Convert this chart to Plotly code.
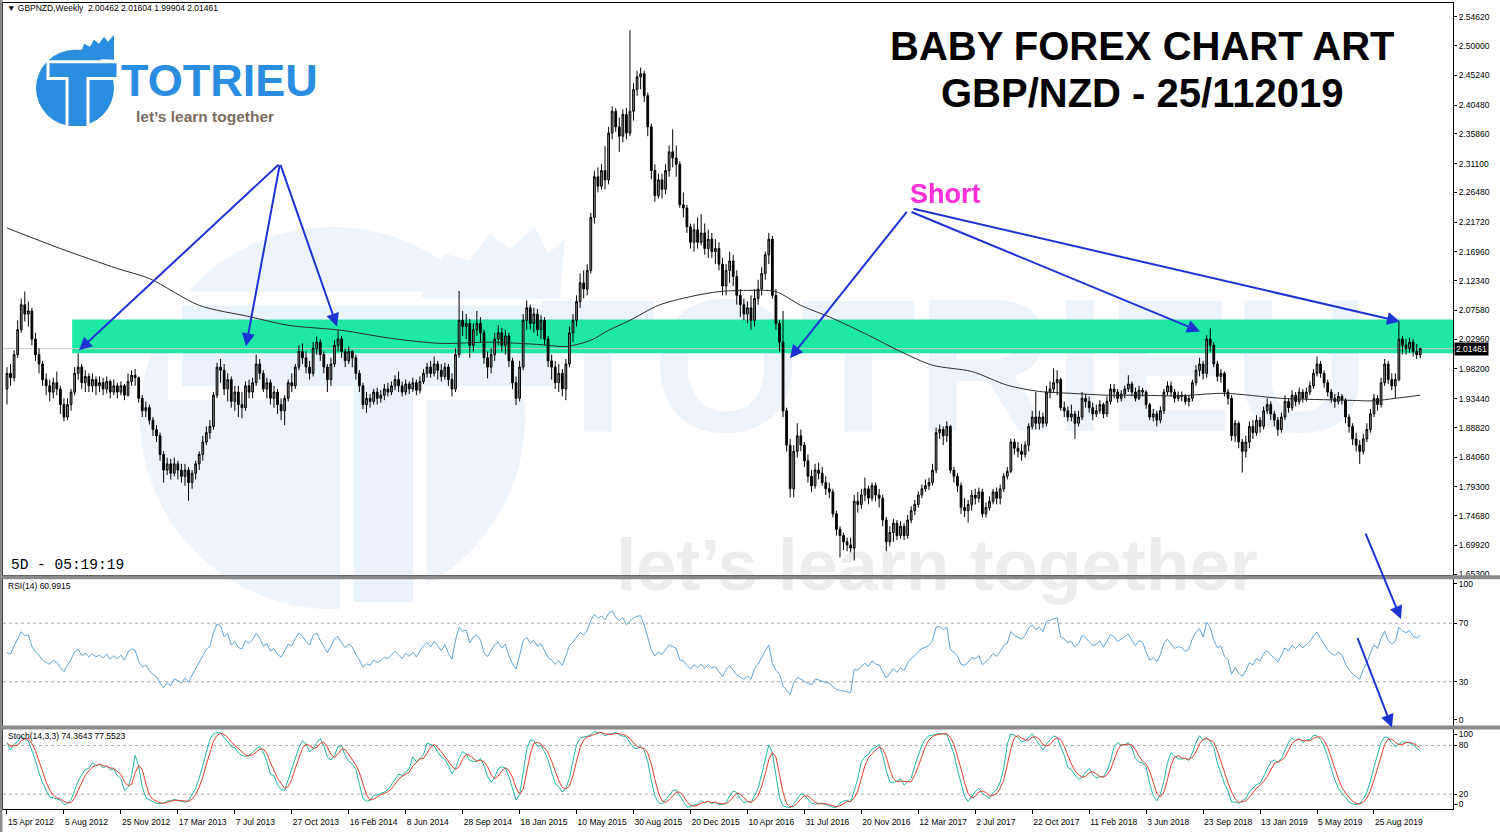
import plotly.graph_objects as go
import pandas as pd

# ---------------- data ----------------
START = "2012-04-15"          # first weekly bar
first_open = 1.950
last_open = 2.00462

close = [
1.975,1.968,2.005,2.045,2.085,2.070,2.075,2.030,2.005,1.990,
1.965,1.955,1.945,1.960,1.950,1.925,1.905,1.925,1.945,1.975,
1.985,1.960,1.970,1.955,1.965,1.955,1.960,1.950,1.962,1.945,
1.955,1.945,1.955,1.940,1.962,1.972,1.968,1.935,1.915,1.920,
1.900,1.885,1.875,1.845,1.820,1.830,1.815,1.830,1.820,1.810,
1.820,1.800,1.815,1.830,1.845,1.865,1.880,1.890,1.940,1.985,
1.980,1.950,1.965,1.930,1.945,1.925,1.920,1.955,1.945,1.960,
1.990,1.975,1.950,1.960,1.935,1.945,1.925,1.915,1.935,1.960,
1.955,1.985,2.010,2.000,1.985,1.975,2.015,2.025,2.005,1.985,
1.965,1.990,2.020,2.030,2.010,1.995,2.010,2.000,1.975,1.955,
1.925,1.935,1.930,1.945,1.935,1.940,1.950,1.945,1.955,1.965,
1.955,1.945,1.958,1.950,1.960,1.948,1.962,1.975,1.985,1.975,
1.990,1.980,1.970,1.985,1.965,1.950,2.005,2.060,2.050,2.055,
2.020,2.045,2.055,2.040,2.000,1.985,2.005,2.030,2.040,2.020,
2.035,1.995,1.960,1.935,1.985,2.060,2.080,2.055,2.070,2.045,
2.060,2.030,1.995,1.985,1.960,1.975,1.950,1.990,2.040,2.060,
2.090,2.120,2.110,2.140,2.225,2.290,2.275,2.300,2.285,2.360,
2.395,2.370,2.355,2.390,2.360,2.395,2.430,2.450,2.455,2.420,
2.370,2.300,2.260,2.285,2.270,2.300,2.330,2.320,2.310,2.245,
2.240,2.210,2.185,2.205,2.185,2.200,2.175,2.190,2.170,2.175,
2.150,2.115,2.140,2.155,2.130,2.100,2.085,2.070,2.080,2.060,
2.095,2.110,2.135,2.165,2.190,2.100,2.055,2.025,1.915,1.860,
1.790,1.850,1.875,1.860,1.835,1.810,1.795,1.820,1.815,1.800,
1.790,1.785,1.750,1.725,1.715,1.705,1.700,1.695,1.770,1.765,
1.780,1.790,1.775,1.795,1.780,1.775,1.740,1.705,1.720,1.735,
1.715,1.730,1.715,1.740,1.755,1.765,1.780,1.790,1.795,1.800,
1.820,1.880,1.885,1.875,1.890,1.820,1.810,1.795,1.760,1.755,
1.765,1.780,1.775,1.785,1.750,1.760,1.770,1.785,1.775,1.790,
1.810,1.818,1.865,1.855,1.850,1.845,1.860,1.890,1.905,1.895,
1.905,1.895,1.945,1.950,1.960,1.965,1.920,1.915,1.905,1.910,
1.895,1.905,1.935,1.930,1.920,1.910,1.915,1.925,1.910,1.930,
1.950,1.945,1.935,1.942,1.950,1.958,1.945,1.935,1.948,1.945,
1.925,1.905,1.910,1.900,1.915,1.945,1.955,1.945,1.935,1.940,
1.938,1.930,1.935,1.960,1.980,1.990,1.975,2.030,2.020,1.990,
1.970,1.975,1.945,1.935,1.875,1.895,1.865,1.850,1.865,1.890,
1.880,1.900,1.890,1.915,1.925,1.910,1.900,1.885,1.905,1.930,
1.920,1.940,1.930,1.945,1.935,1.945,1.955,1.975,1.990,1.975,
1.960,1.945,1.935,1.930,1.938,1.932,1.905,1.890,1.870,1.860,
1.850,1.870,1.885,1.910,1.935,1.925,1.960,1.990,1.965,1.955,
1.965,2.030,2.020,2.015,2.025,2.010,2.005,2.01461]

high = [
1.985,1.990,2.012,2.060,2.095,2.106,2.090,2.080,2.040,2.015,
1.995,1.975,1.965,1.968,1.978,1.955,1.935,1.935,1.950,1.985,
2.007,1.990,1.980,1.975,1.975,1.970,1.970,1.968,1.970,1.965,
1.965,1.960,1.962,1.958,1.975,1.980,1.982,1.970,1.940,1.930,
1.925,1.905,1.892,1.880,1.850,1.840,1.838,1.840,1.835,1.830,
1.830,1.825,1.820,1.835,1.850,1.875,1.890,1.900,1.945,1.992,
1.998,1.990,1.975,1.970,1.955,1.955,1.945,1.962,1.965,1.968,
2.005,1.998,1.980,1.968,1.965,1.955,1.950,1.935,1.940,1.965,
1.975,1.990,2.020,2.023,2.010,1.995,2.025,2.034,2.030,2.010,
1.990,2.000,2.028,2.044,2.035,2.015,2.018,2.012,2.005,1.980,
1.960,1.945,1.942,1.950,1.952,1.948,1.958,1.960,1.962,1.972,
1.978,1.962,1.965,1.962,1.968,1.965,1.970,1.982,1.992,1.995,
2.002,1.995,1.990,1.992,1.990,1.975,2.015,2.107,2.075,2.070,
2.062,2.055,2.075,2.065,2.045,2.010,2.015,2.040,2.052,2.048,
2.045,2.040,2.000,1.970,1.995,2.070,2.092,2.085,2.080,2.078,
2.068,2.065,2.035,2.005,1.995,1.990,1.982,1.998,2.050,2.070,
2.100,2.135,2.140,2.150,2.232,2.300,2.305,2.310,2.339,2.370,
2.403,2.400,2.385,2.398,2.400,2.525,2.440,2.460,2.465,2.460,
2.425,2.375,2.310,2.295,2.295,2.310,2.340,2.366,2.340,2.315,
2.265,2.245,2.215,2.215,2.225,2.230,2.215,2.205,2.200,2.190,
2.185,2.160,2.150,2.170,2.165,2.140,2.110,2.095,2.090,2.100,
2.110,2.125,2.145,2.170,2.200,2.195,2.110,2.060,2.075,1.920,
1.870,1.860,1.895,1.885,1.865,1.845,1.820,1.830,1.832,1.825,
1.810,1.800,1.790,1.755,1.730,1.720,1.712,1.712,1.780,1.785,
1.790,1.808,1.795,1.800,1.800,1.790,1.780,1.745,1.730,1.742,
1.740,1.738,1.735,1.748,1.762,1.772,1.786,1.797,1.805,1.808,
1.830,1.888,1.893,1.890,1.898,1.892,1.825,1.815,1.800,1.775,
1.772,1.788,1.790,1.792,1.790,1.768,1.778,1.790,1.792,1.797,
1.815,1.825,1.870,1.870,1.865,1.862,1.866,1.895,1.915,1.945,
1.915,1.912,1.955,1.962,1.983,1.980,1.968,1.930,1.922,1.925,
1.915,1.915,1.945,1.942,1.938,1.928,1.925,1.932,1.928,1.938,
1.958,1.958,1.950,1.948,1.955,1.972,1.962,1.952,1.955,1.952,
1.948,1.928,1.918,1.915,1.922,1.950,1.962,1.962,1.950,1.946,
1.946,1.942,1.940,1.965,1.988,2.000,1.995,2.036,2.047,2.025,
1.995,1.982,1.978,1.950,1.940,1.900,1.898,1.870,1.875,1.898,
1.900,1.908,1.905,1.922,1.935,1.930,1.915,1.905,1.912,1.940,
1.935,1.948,1.945,1.952,1.950,1.952,1.962,1.982,2.002,1.995,
1.980,1.965,1.950,1.942,1.945,1.942,1.935,1.910,1.895,1.880,
1.868,1.878,1.895,1.918,1.942,1.940,1.968,1.998,1.995,1.975,
1.975,2.058,2.035,2.030,2.032,2.030,2.022,2.01604]

low = [
1.925,1.955,1.962,2.000,2.040,2.058,2.050,2.020,1.995,1.975,
1.955,1.940,1.930,1.935,1.940,1.910,1.898,1.900,1.915,1.940,
1.965,1.950,1.945,1.945,1.945,1.940,1.945,1.940,1.943,1.935,
1.940,1.935,1.940,1.932,1.938,1.955,1.955,1.928,1.905,1.905,
1.893,1.875,1.865,1.835,1.800,1.812,1.805,1.810,1.805,1.800,
1.795,1.771,1.790,1.805,1.820,1.835,1.860,1.870,1.885,1.935,
1.960,1.940,1.930,1.920,1.915,1.905,1.903,1.915,1.935,1.935,
1.955,1.965,1.945,1.935,1.925,1.920,1.910,1.900,1.892,1.930,
1.945,1.950,1.980,1.990,1.975,1.965,1.970,2.005,1.995,1.975,
1.945,1.955,1.985,2.010,2.000,1.985,1.990,1.985,1.965,1.945,
1.918,1.912,1.920,1.925,1.925,1.928,1.932,1.938,1.940,1.948,
1.945,1.938,1.940,1.942,1.945,1.940,1.943,1.958,1.968,1.968,
1.970,1.965,1.962,1.965,1.955,1.938,1.945,2.000,2.035,2.030,
2.000,2.010,2.035,2.025,1.990,1.967,1.975,1.995,2.020,2.010,
2.005,1.985,1.950,1.924,1.930,1.980,2.045,2.045,2.040,2.035,
2.030,2.020,1.985,1.965,1.950,1.945,1.938,1.932,1.985,2.025,
2.050,2.080,2.095,2.100,2.135,2.215,2.265,2.270,2.270,2.278,
2.350,2.362,2.330,2.345,2.350,2.355,2.380,2.420,2.430,2.410,
2.355,2.286,2.250,2.255,2.255,2.262,2.290,2.305,2.290,2.240,
2.225,2.200,2.175,2.170,2.175,2.180,2.165,2.160,2.160,2.150,
2.140,2.100,2.100,2.120,2.115,2.085,2.065,2.060,2.055,2.045,
2.050,2.085,2.100,2.125,2.150,2.095,2.045,2.010,1.905,1.850,
1.776,1.776,1.840,1.850,1.825,1.800,1.785,1.790,1.805,1.795,
1.780,1.775,1.744,1.715,1.680,1.692,1.690,1.688,1.675,1.752,
1.758,1.770,1.765,1.770,1.770,1.760,1.730,1.690,1.698,1.705,
1.708,1.710,1.708,1.710,1.735,1.748,1.760,1.775,1.785,1.788,
1.795,1.815,1.870,1.860,1.865,1.815,1.800,1.785,1.750,1.745,
1.736,1.755,1.765,1.768,1.744,1.744,1.755,1.765,1.765,1.765,
1.785,1.805,1.815,1.845,1.840,1.835,1.840,1.850,1.885,1.885,
1.885,1.888,1.890,1.935,1.945,1.940,1.915,1.905,1.898,1.898,
1.870,1.890,1.900,1.920,1.912,1.900,1.905,1.910,1.903,1.905,
1.925,1.935,1.928,1.930,1.935,1.945,1.938,1.930,1.932,1.938,
1.918,1.900,1.898,1.890,1.895,1.910,1.940,1.938,1.928,1.930,
1.930,1.925,1.922,1.930,1.955,1.970,1.965,1.968,2.010,1.985,
1.962,1.960,1.938,1.925,1.867,1.865,1.855,1.816,1.840,1.855,
1.870,1.875,1.880,1.885,1.910,1.900,1.890,1.875,1.880,1.900,
1.912,1.915,1.922,1.925,1.928,1.930,1.940,1.950,1.970,1.968,
1.952,1.938,1.928,1.920,1.925,1.925,1.895,1.880,1.860,1.850,
1.830,1.845,1.865,1.880,1.905,1.915,1.920,1.955,1.958,1.948,
1.935,1.962,2.005,2.005,2.008,2.002,1.998,1.99904]

# long moving average (read at sampled weeks)
ma_week = [0,15,31,40,54,68,79,94,108,122,136,150,157,164,169,175,183,192,200,
           209,216,223,232,242,251,260,271,281,290,299,309,318,329,342,358,376,384,390,397]
ma_value = [2.208,2.175,2.143,2.127,2.084,2.066,2.052,2.044,2.031,2.023,2.025,2.021,2.018,
            2.028,2.044,2.060,2.084,2.098,2.106,2.108,2.106,2.084,2.063,2.036,2.010,1.988,
            1.978,1.956,1.946,1.943,1.940,1.940,1.939,1.943,1.935,1.932,1.931,1.935,1.940]

price_ticks = [2.5462,2.5000,2.4524,2.4048,2.3586,2.3110,2.2648,2.2172,2.1696,2.1234,
               2.0758,2.0296,1.9820,1.9344,1.8882,1.8406,1.7930,1.7468,1.6992,1.6530]
zone_low, zone_high = 2.0071, 2.0613
zone_start_week = 18.3
bid = 2.01461
rsi_levels = [70, 30]
stoch_levels = [80, 20]

# ---------------- derived series ----------------
n = len(close)
dates = pd.date_range(START, periods=n, freq="7D")
opens = [first_open] + close[:-1]
opens[-1] = last_open
wk = pd.Timedelta(days=7)

def rsi_calc(c, period=14, seed=0.012):
    ag = al = seed
    out = [50.0]
    for i in range(1, len(c)):
        d = c[i] - c[i - 1]
        ag = (ag * (period - 1) + max(d, 0)) / period
        al = (al * (period - 1) + max(-d, 0)) / period
        out.append(100 - 100 / (1 + ag / al) if al > 0 else 100)
    return out

def stoch_calc(c, h, l, k=14, slow=3, d=3):
    num, den = [], []
    for i in range(len(c)):
        lo = min(l[max(0, i - k + 1):i + 1]); hi = max(h[max(0, i - k + 1):i + 1])
        num.append(c[i] - lo); den.append(hi - lo)
    K = []
    for i in range(len(c)):
        a = sum(num[max(0, i - slow + 1):i + 1]); b = sum(den[max(0, i - slow + 1):i + 1])
        K.append(100 * a / b if b else 50)
    D = [sum(K[max(0, i - d + 1):i + 1]) / len(K[max(0, i - d + 1):i + 1]) for i in range(len(K))]
    return K, D

rsi = rsi_calc(close)
stK, stD = stoch_calc(close, high, low)

# ---------------- layout helpers (pixel -> paper) ----------------
W, H = 1500, 836
def PX(x): return x / W
def PY(y): return 1 - y / H
def ppath(pts, close_path=True):
    s = "M " + " L ".join(f"{PX(x):.5f},{PY(y):.5f}" for x, y in pts)
    return s + (" Z" if close_path else "")

x_range = [dates[0] - 1.12 * wk, dates[0] + 406.2 * wk]
BLUE = "#1d33d4"
LOGO = "#2a8de0"
SANS = "Liberation Sans, Arial, sans-serif"
TICKFONT = dict(family=SANS, size=8.5, color="black")

fig = go.Figure()

# faint watermark text: own full-figure subplot (x/y) drawn beneath the chart subplots
fig.add_trace(go.Scatter(x=[955], y=[385], mode="text", text=["TOTRIEU"],
                         textfont=dict(family=SANS, size=190, color="#edf3fb", weight=700),
                         cliponaxis=False, hoverinfo="skip", showlegend=False, xaxis="x", yaxis="y"))
fig.add_trace(go.Scatter(x=[937], y=[575], mode="text", text=["let’s learn together"],
                         textfont=dict(family=SANS, size=72, color="#ededed", weight=700),
                         cliponaxis=False, hoverinfo="skip", showlegend=False, xaxis="x", yaxis="y"))

# candles (price subplot x2/y2)
fig.add_trace(go.Candlestick(x=dates, open=opens, high=high, low=low, close=close,
                             increasing=dict(line=dict(color="black", width=1), fillcolor="#8c8c8c"),
                             decreasing=dict(line=dict(color="black", width=1), fillcolor="black"),
                             whiskerwidth=0, showlegend=False, hoverinfo="skip",
                             xaxis="x2", yaxis="y2"))
# moving average
fig.add_trace(go.Scatter(x=[dates[0] + w * wk for w in ma_week], y=ma_value, mode="lines",
                         line=dict(color="#2a2a2a", width=1, shape="spline", smoothing=0.8),
                         showlegend=False, hoverinfo="skip", xaxis="x2", yaxis="y2"))
# RSI
fig.add_trace(go.Scatter(x=dates, y=rsi, mode="lines", line=dict(color="#5fa3d6", width=1),
                         showlegend=False, hoverinfo="skip", xaxis="x3", yaxis="y3"))
# Stochastic
fig.add_trace(go.Scatter(x=dates, y=stK, mode="lines", line=dict(color="#22b5a8", width=1),
                         showlegend=False, hoverinfo="skip", xaxis="x4", yaxis="y4"))
fig.add_trace(go.Scatter(x=dates, y=stD, mode="lines", line=dict(color="#e0402a", width=1),
                         showlegend=False, hoverinfo="skip", xaxis="x4", yaxis="y4"))

shapes = []
# watermark logo circle + T cut (paper, lowest layer)
shapes.append(dict(type="circle", xref="paper", yref="paper", x0=PX(140), x1=PX(525), y0=PY(612),
                   y1=PY(228), fillcolor="#eef4fb", line=dict(width=0), layer="below"))
shapes.append(dict(type="path", xref="paper", yref="paper",
                   path=ppath([(175, 300), (560, 300), (560, 395), (420, 395), (420, 612),
                               (347, 612), (347, 395), (175, 395)]),
                   fillcolor="#eaf2fb", line=dict(color="white", width=14), layer="below"))
shapes.append(dict(type="path", xref="paper", yref="paper",
                   path=ppath([(420, 300), (445, 255), (470, 262), (490, 235), (510, 250), (535, 228),
                               (548, 255), (565, 240), (560, 300)]),
                   fillcolor="#eef4fb", line=dict(width=0), layer="below"))
# support/resistance zone (price subplot, under the candles)
shapes.append(dict(type="rect", xref="x2", yref="y2", x0=dates[0] + zone_start_week * wk, x1=x_range[1],
                   y0=zone_low, y1=zone_high, fillcolor="#1ee8a4", line=dict(width=0), layer="below"))
# bid line
shapes.append(dict(type="line", xref="x2", yref="y2", x0=x_range[0], x1=x_range[1], y0=bid, y1=bid,
                   line=dict(color="#c8c8c8", width=1), layer="below"))
# indicator levels
for lv in rsi_levels:
    shapes.append(dict(type="line", xref="x3", yref="y3", x0=x_range[0], x1=x_range[1], y0=lv, y1=lv,
                       line=dict(color="#a8a8a8", width=1, dash="dot"), layer="below"))
for lv in stoch_levels:
    shapes.append(dict(type="line", xref="x4", yref="y4", x0=x_range[0], x1=x_range[1], y0=lv, y1=lv,
                       line=dict(color="#a8a8a8", width=1, dash="dot"), layer="below"))
# panel separators and window border
for y0, y1 in [(578, 582), (729, 733)]:
    shapes.append(dict(type="rect", xref="paper", yref="paper", x0=0, x1=1, y0=PY(y1), y1=PY(y0),
                       fillcolor="#8a8a8a", line=dict(width=0)))
shapes.append(dict(type="rect", xref="paper", yref="paper", x0=0, x1=PX(2.5), y0=PY(836), y1=1,
                   fillcolor="#8a8a8a", line=dict(width=0)))
# small logo (top-left)
shapes.append(dict(type="path", xref="paper", yref="paper",
                   path=ppath([(68, 58), (76, 50), (82, 50), (84, 44), (90, 47), (94, 40), (99, 44),
                               (104, 37), (108, 42), (114, 35), (114, 60)]),
                   fillcolor=LOGO, line=dict(width=0)))
shapes.append(dict(type="circle", xref="paper", yref="paper", x0=PX(36), x1=PX(114), y0=PY(127),
                   y1=PY(50), fillcolor=LOGO, line=dict(width=0)))
shapes.append(dict(type="path", xref="paper", yref="paper",
                   path=ppath([(48, 62), (118, 62), (118, 79), (88, 79), (88, 128), (67, 128),
                               (67, 79), (48, 79)]),
                   fillcolor=LOGO, line=dict(color="white", width=3)))

ann = []
def text(x, y, s, size, color="black", family=SANS, xanchor="left", **kw):
    ann.append(dict(x=PX(x), y=PY(y), xref="paper", yref="paper", text=s, showarrow=False,
                    xanchor=xanchor, yanchor="middle",
                    font=dict(family=family, size=size, color=color), **kw))

text(5, 8, "▼ GBPNZD,Weekly  2.00462 2.01604 1.99904 2.01461", 8.5)
text(6, 589, "RSI(14) 60.9915", 8.5)
text(6, 740, "Stoch(14,3,3) 74.3643 77.5523", 8.5)
text(9, 568, "5D - 05:19:19", 14.5, family="Liberation Mono, Courier New, monospace")
text(1142, 46, "<b>BABY FOREX CHART ART</b>", 40, xanchor="center")
text(1142, 93, "<b>GBP/NZD - 25/112019</b>", 40, xanchor="center")
text(945, 195, "<b>Short</b>", 27, color="#ff30d8", xanchor="center")
text(119, 81, "<b>TOTRIEU</b>", 45, color=LOGO)
text(134, 117, "<b>let’s learn together</b>", 15.5, color="#7a6b5e")
# current price marker on the scale
ann.append(dict(x=PX(1454), y=bid, xref="paper", yref="y2", text="2.01461", showarrow=False,
                xanchor="left", yanchor="middle", bgcolor="black", borderpad=1,
                font=dict(family=SANS, size=8.5, color="white")))

def arrow(tail, head):
    ann.append(dict(x=PX(head[0]), y=PY(head[1]), xref="paper", yref="paper",
                    ax=tail[0] - head[0], ay=tail[1] - head[1], text="", showarrow=True,
                    arrowhead=2, arrowsize=1.3, arrowwidth=2, arrowcolor=BLUE, standoff=0))

arrow((280, 165), (79, 352))
arrow((280, 165), (246, 348))
arrow((280, 165), (337, 328))
arrow((908, 212), (790, 360))
arrow((910, 213), (1200, 333))
arrow((912, 210), (1400, 323))
arrow((1365, 535), (1401, 622))
arrow((1357, 640), (1392, 731))

xdom = [PX(3), PX(1453)]
base_x = dict(range=x_range, domain=xdom, showgrid=False, zeroline=False, showline=True, mirror=True,
              linecolor="black", linewidth=1, fixedrange=True)
base_y = dict(side="right", showgrid=False, zeroline=False, showline=True, mirror=True,
              linecolor="black", linewidth=1, ticks="outside", ticklen=3, tickcolor="black",
              tickfont=TICKFONT, fixedrange=True)
hidden = dict(visible=False, showgrid=False, zeroline=False, fixedrange=True)

lbl_idx = list(range(0, n, 16))
fig.update_layout(
    width=W, height=H, margin=dict(l=0, r=0, t=0, b=0),
    paper_bgcolor="white", plot_bgcolor="rgba(0,0,0,0)", hovermode=False, showlegend=False,
    xaxis=dict(hidden, domain=[0, 1], range=[0, W], anchor="y"),
    yaxis=dict(hidden, domain=[0, 1], range=[H, 0], anchor="x"),
    xaxis2=dict(base_x, anchor="y2", showticklabels=False, ticks="", rangeslider=dict(visible=False)),
    xaxis3=dict(base_x, anchor="y3", showticklabels=False, ticks=""),
    xaxis4=dict(base_x, anchor="y4", tickmode="array", tickvals=[dates[i] for i in lbl_idx],
                ticktext=[dates[i].strftime("%-d %b %Y") for i in lbl_idx], ticks="outside",
                ticklen=4, tickcolor="black", tickfont=TICKFONT, tickangle=0,
                ticklabelposition="outside right", ticklabelstandoff=5),
    yaxis2=dict(base_y, domain=[PY(578), PY(3)], range=[1.6515, 2.5685], tickmode="array",
                tickvals=price_ticks, ticktext=[f"{v:.5f}" for v in price_ticks], anchor="x2"),
    yaxis3=dict(base_y, domain=[PY(729), PY(582)], range=[0.17, 100], tickmode="array",
                tickvals=[96.8, 70, 30, 4.2], ticktext=["100", "70", "30", "0"], anchor="x3"),
    yaxis4=dict(base_y, domain=[PY(813), PY(733)], range=[1.6, 99.6], tickmode="array",
                tickvals=[94, 80, 20, 7.7], ticktext=["100", "80", "20", "0"], anchor="x4"),
    shapes=shapes, annotations=ann,
)

fig.write_html("out.html", config={"displayModeBar": False},
               post_script="document.body.style.margin='0';document.body.style.overflow='hidden';")
